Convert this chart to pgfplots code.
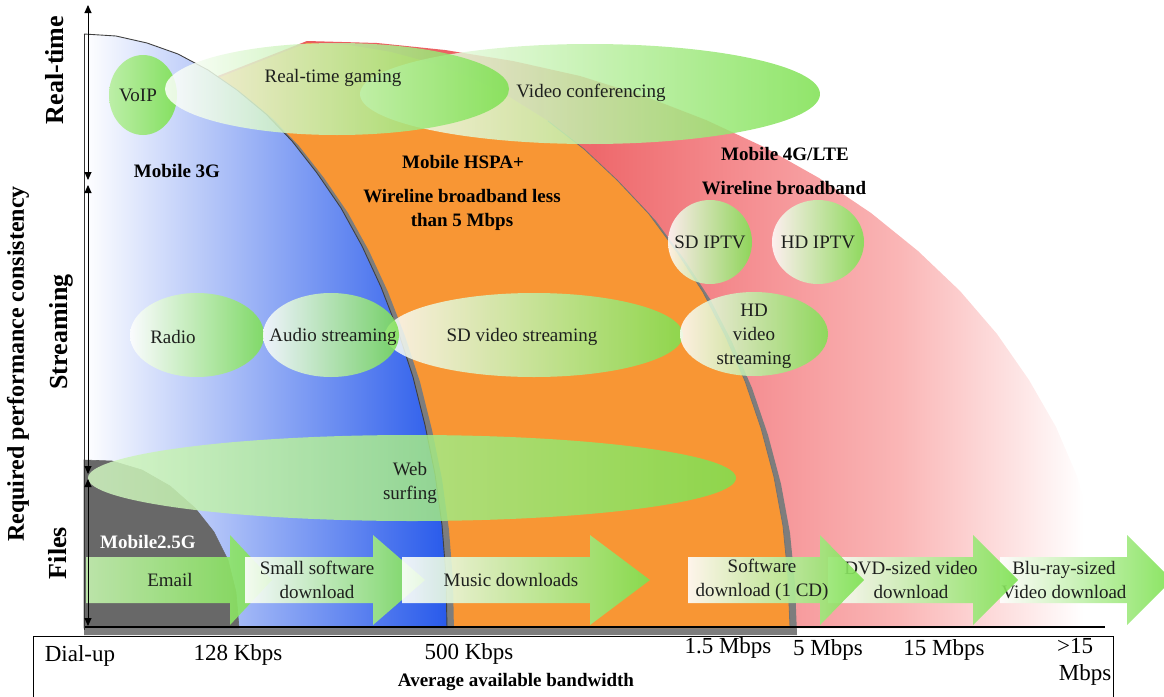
\documentclass[border=0pt]{standalone}
\usepackage{pgfplots}
\pgfplotsset{compat=1.18}
\usepackage{pgfplotstable}
\usetikzlibrary{arrows.meta}
\usepackage{fontspec}
\setmainfont{Liberation Serif}

\definecolor{lteL}{RGB}{230,80,80}
\definecolor{lteM}{RGB}{238,105,108}
\definecolor{lteA}{RGB}{245,145,148}
\definecolor{lteB}{RGB}{250,182,182}
\definecolor{lteC}{RGB}{253,222,222}
\definecolor{hspa}{RGB}{248,150,52}
\definecolor{blue3g}{RGB}{40,90,235}
\definecolor{g25}{RGB}{104,104,104}
\definecolor{shadow}{RGB}{125,125,125}
\definecolor{bub}{RGB}{125,225,80}
\definecolor{txt}{RGB}{30,32,30}
\pgfdeclarehorizontalshading{ltefade}{100bp}{color(0bp)=(lteL); color(25bp)=(lteL); color(50bp)=(lteM); color(58bp)=(lteA); color(65bp)=(lteB); color(70bp)=(lteC); color(74bp)=(white); color(100bp)=(white)}

\newcommand{\fa}{\fontsize{19}{24}\selectfont}
\newcommand{\fb}{\fontsize{19}{24}\selectfont\bfseries}
\newcommand{\ft}{\fontsize{23}{28}\selectfont}
\newcommand{\fr}{\fontsize{26}{30}\selectfont\bfseries}
\newcommand{\fy}{\fontsize{24}{28}\selectfont\bfseries}

% region outlines, in picture pixels (y grows downward)
\pgfplotstableread{
x y
307 41
377 43
445 50
513 61
580 76
644 96
706 120
764 147
819 178
871 213
918 251
960 291
997 334
1029 380
1056 427
1077 476
1092 526
1101 577
1104 628
}\arclte
\pgfplotstableread{
x y
307 43
349 45
391 52
432 63
472 78
511 98
548 121
584 149
617 180
649 214
677 252
703 292
725 335
745 381
761 428
774 477
783 526
788 577
790 628
}\archspa
\pgfplotstableread{
x y
84 34
116 36
147 43
178 54
208 70
237 90
266 114
292 141
317 173
341 208
362 246
381 287
398 331
413 377
425 425
435 474
442 525
446 576
447 628
}\arcthreeg
\pgfplotstableread{
x y
84 460
112 461
142 470
170 486
195 508
214 532
228 560
236 592
239 628
}\arctwo

\begin{document}
\begin{tikzpicture}
\begin{axis}[
    hide axis, scale only axis,
    width=1164pt, height=696pt,
    xmin=0, xmax=1164, ymin=0, ymax=696,
    y dir=reverse,
]
\coordinate (A) at (axis cs:0,0);
\coordinate (B) at (axis cs:1164,696);

% coverage regions
\addplot[draw=none, shade, shading=ltefade] table {\arclte} -- (axis cs:84,628) -- (axis cs:84,150) -- (axis cs:200,83) -- cycle;
\addplot[draw=none, fill=shadow] table[x expr=\thisrow{x}+7, y expr=\thisrow{y}+7] {\archspa} -- (axis cs:84,635) -- (axis cs:84,157) -- (axis cs:207,92) -- cycle;
\addplot[draw=none, fill=hspa] table {\archspa} -- (axis cs:84,628) -- (axis cs:84,150) -- (axis cs:200,85) -- cycle;
\addplot[draw=black!55, line width=0.8pt] table[skip coords between index={0}{6}] {\archspa};
\addplot[draw=none, fill=shadow] table[x expr=\thisrow{x}+7, y expr=\thisrow{y}+5] {\arcthreeg} -- (axis cs:84,633) -- cycle;
\addplot[draw=none, left color=white, right color=blue3g] table {\arcthreeg} -- (axis cs:84,628) -- cycle;
\addplot[draw=black!75, line width=0.9pt] table {\arcthreeg};
\addplot[draw=black!60, line width=0.6pt, fill=g25] table {\arctwo} -- (axis cs:84,628) -- cycle;

% application bubbles
\tikzset{bubble/.style={left color=white, right color=bub, fill opacity=0.85, draw=none}}
\path[left color=bub!55!white, right color=bub, fill opacity=0.9] (axis cs:143,95) ellipse [x radius=34, y radius=40];
\path[bubble] (axis cs:590,94) ellipse [x radius=230, y radius=50];
\path[bubble] (axis cs:337,89) ellipse [x radius=172, y radius=46];
\path[bubble] (axis cs:710,242) ellipse [x radius=42, y radius=42];
\path[bubble] (axis cs:818,242) ellipse [x radius=46, y radius=42];
\path[bubble] (axis cs:197,335) ellipse [x radius=67, y radius=42];
\path[bubble] (axis cs:534,335) ellipse [x radius=149, y radius=42];
\path[bubble] (axis cs:331,335) ellipse [x radius=68, y radius=42];
\path[bubble] (axis cs:754,334) ellipse [x radius=74, y radius=42];
\path[left color=bub!35!white, right color=bub, fill opacity=0.85] (axis cs:412,478) ellipse [x radius=324, y radius=43];

% download arrows
\tikzset{blk/.style={draw=none, left color=white, right color=bub, fill opacity=0.9}}
\addplot[draw=none, left color=bub!45!white, right color=bub, fill opacity=0.9] coordinates {(86,557)(230,557)(230,535)(272,580)(230,625)(230,603)(86,603)};
\node[font=\fa, text=txt] at (axis cs:170,580) {Email};
\addplot[blk] coordinates {(245,557)(373,557)(373,535)(425,580)(373,625)(373,603)(245,603)};
\node[font=\fa, text=txt, align=center] at (axis cs:317,580) {Small software\\download};
\addplot[blk] coordinates {(402,557)(590,557)(590,535)(650,580)(590,625)(590,603)(402,603)};
\node[font=\fa, text=txt] at (axis cs:511,580) {Music downloads};
\addplot[blk] coordinates {(1000,557)(1127,557)(1127,535)(1172,580)(1127,625)(1127,603)(1000,603)};
\node[font=\fa, text=txt, align=center] at (axis cs:1064,580) {Blu-ray-sized\\Video download};
\addplot[blk] coordinates {(828,557)(973,557)(973,535)(1018,580)(973,625)(973,603)(828,603)};
\node[font=\fa, text=txt, align=center] at (axis cs:911,580) {DVD-sized video\\download};
\addplot[blk] coordinates {(688,557)(820,557)(820,535)(864,580)(820,625)(820,603)(688,603)};
\node[font=\fa, text=txt, align=center] at (axis cs:762,580) {Software\\download (1 CD)};

% bubble texts
\node[font=\fa, text=txt] at (axis cs:138,95) {VoIP};
\node[font=\fa, text=txt] at (axis cs:333,78) {Real-time gaming};
\node[font=\fa, text=txt] at (axis cs:591,93) {Video conferencing};
\node[font=\fa, text=txt] at (axis cs:710,242) {SD IPTV};
\node[font=\fa, text=txt] at (axis cs:818,242) {HD IPTV};
\node[font=\fa, text=txt, align=center] at (axis cs:754,336) {HD\\video\\streaming};
\node[font=\fa, text=txt] at (axis cs:173,337) {Radio};
\node[font=\fa, text=txt] at (axis cs:333,337) {Audio streaming};
\node[font=\fa, text=txt] at (axis cs:522,337) {SD video streaming};
\node[font=\fa, text=txt, align=center] at (axis cs:410,483) {Web\\surfing};

% technology labels
\node[font=\fb, text=black] at (axis cs:177,171) {Mobile 3G};
\node[font=\fb, text=black] at (axis cs:463,162) {Mobile HSPA+};
\node[font=\fb, text=black, align=center] at (axis cs:462,210) {Wireline broadband less\\than 5 Mbps};
\node[font=\fb, text=black] at (axis cs:785,154) {Mobile 4G/LTE};
\node[font=\fb, text=black] at (axis cs:784,188) {Wireline broadband};
\node[font=\fb, text=white] at (axis cs:148,542) {Mobile2.5G};

% axes frame
\draw[black, line width=1.3pt] (axis cs:84,627) -- (axis cs:1105,627);
\draw[black!80, line width=0.8pt] (axis cs:84,34) -- (axis cs:84,630);
\draw[black, line width=0.9pt] (axis cs:33,636) rectangle (axis cs:1113,710);
\tikzset{dbl/.style={black, line width=0.9pt, {Triangle[width=7pt,length=8pt]}-{Triangle[width=7pt,length=8pt]}}}
\draw[dbl] (axis cs:88,5) -- (axis cs:88,180);
\draw[dbl] (axis cs:88,185) -- (axis cs:88,474);
\draw[dbl] (axis cs:88,479) -- (axis cs:88,626);

% vertical labels
\node[font=\fr, rotate=90] at (axis cs:55,70) {Real-time};
\node[font=\fr, rotate=90] at (axis cs:61,332) {Streaming};
\node[font=\fr, rotate=90] at (axis cs:58,553) {Files};
\node[font=\fy, rotate=90] at (axis cs:18,364) {Required performance consistency};

% bandwidth labels
\node[font=\ft] at (axis cs:80,656) {Dial-up};
\node[font=\ft] at (axis cs:238,655) {128 Kbps};
\node[font=\ft] at (axis cs:469,654) {500 Kbps};
\node[font=\ft] at (axis cs:728,648) {1.5 Mbps};
\node[font=\ft] at (axis cs:828,650) {5 Mbps};
\node[font=\ft] at (axis cs:944,650) {15 Mbps};
\node[font=\ft] at (axis cs:1075,646) {>15};
\node[font=\ft] at (axis cs:1085,675) {Mbps};
\node[font=\fb] at (axis cs:516,682) {Average available bandwidth};
\end{axis}
\pgfresetboundingbox
\useasboundingbox (A) rectangle (B);
\end{tikzpicture}
\end{document}
